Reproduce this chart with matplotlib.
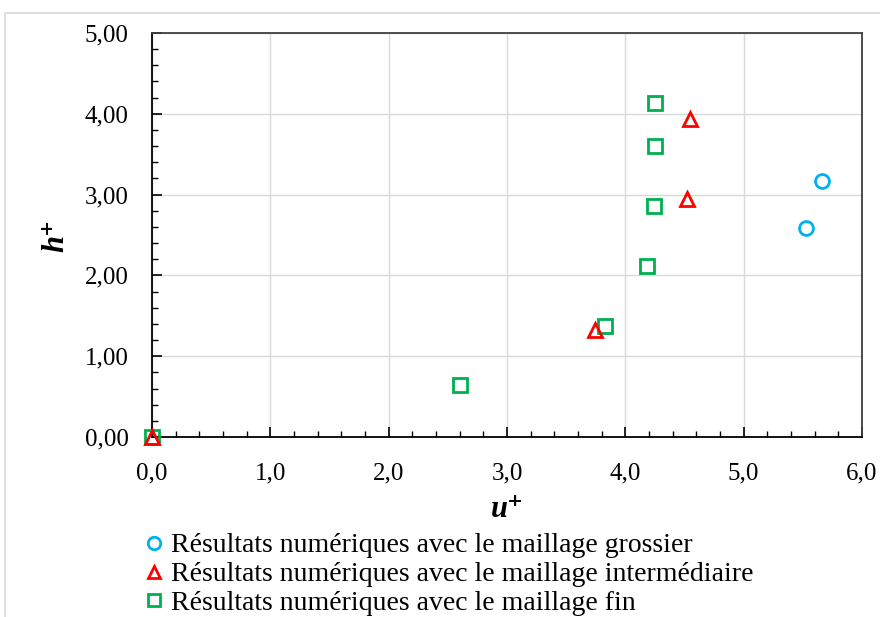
import matplotlib
matplotlib.use("Agg")
import matplotlib.pyplot as plt
from matplotlib.ticker import MultipleLocator, FuncFormatter
from matplotlib.patches import Rectangle

# Data
coarse_u = [5.66, 5.53]
coarse_h = [3.17, 2.59]
inter_u = [0.0, 3.74, 4.52, 4.55]
inter_h = [0.0, 1.32, 2.94, 3.94]
fine_u = [0.0, 2.60, 3.83, 4.18, 4.24, 4.25, 4.25]
fine_h = [0.0, 0.64, 1.37, 2.12, 2.86, 3.60, 4.13]

labels = ["Résultats numériques avec le maillage grossier",
          "Résultats numériques avec le maillage intermédiaire",
          "Résultats numériques avec le maillage fin"]

plt.rcParams['font.family'] = ['Liberation Serif', 'DejaVu Serif']

fig = plt.figure(figsize=(8.8, 6.17), dpi=100)
fig.patches.append(Rectangle((5/880, -0.1), 1.1, 1.1 - 13/617, transform=fig.transFigure,
                             fill=False, edgecolor='#d9d9d9', linewidth=1.2))
ax = fig.add_axes([152/880, 1 - 437/617, 710/880, 404/617])

ms = 10
mew = 2
ax.plot(coarse_u, coarse_h, 'o', ms=ms, mfc='none', mec='#00b0f0', mew=mew,
        label=labels[0], zorder=3, clip_on=False)
ax.plot(inter_u, inter_h, '^', ms=ms, mfc='none', mec='#ff0000', mew=mew,
        label=labels[1], zorder=4, clip_on=False)
ax.plot(fine_u, fine_h, 's', ms=ms, mfc='none', mec='#00b050', mew=mew,
        label=labels[2], zorder=3, clip_on=False)

ax.set_xlim(0, 6)
ax.set_ylim(0, 5)
ax.xaxis.set_major_locator(MultipleLocator(1))
ax.xaxis.set_minor_locator(MultipleLocator(0.2))
ax.yaxis.set_major_locator(MultipleLocator(1))
ax.yaxis.set_minor_locator(MultipleLocator(0.2))
ax.xaxis.set_major_formatter(FuncFormatter(lambda v, p: f"{v:.1f}".replace('.', ',')))
ax.yaxis.set_major_formatter(FuncFormatter(lambda v, p: f"{v:.2f}".replace('.', ',')))
ax.tick_params(axis='both', which='major', direction='in', length=7, width=1.2, labelsize=18)
ax.tick_params(axis='x', which='major', pad=18)
ax.tick_params(axis='y', which='major', pad=17)
ax.tick_params(axis='both', which='minor', direction='in', length=4, width=1)
ax.tick_params(axis='x', which='both', top=False)
ax.tick_params(axis='y', which='both', right=False)
ax.grid(True, which='major', color='#d9d9d9', linewidth=1)
ax.set_axisbelow(True)
for s in ax.spines.values():
    s.set_linewidth(1.3)
    s.set_color('black')
ax.spines['top'].set_color('#404040')
ax.spines['right'].set_color('#404040')

ax.set_xlabel('u⁺', fontsize=22, fontweight='bold', fontstyle='italic', labelpad=8)
ax.set_ylabel('h⁺', fontsize=22, fontweight='bold', fontstyle='italic', labelpad=10)

fig.legend(loc='upper left', bbox_to_anchor=(146/880, 1 - 533/617), frameon=False,
           fontsize=20, handlelength=0.6, handletextpad=0.3, labelspacing=0.12,
           borderpad=0, borderaxespad=0, markerscale=0.9)

fig.savefig('out.png', dpi=100)
